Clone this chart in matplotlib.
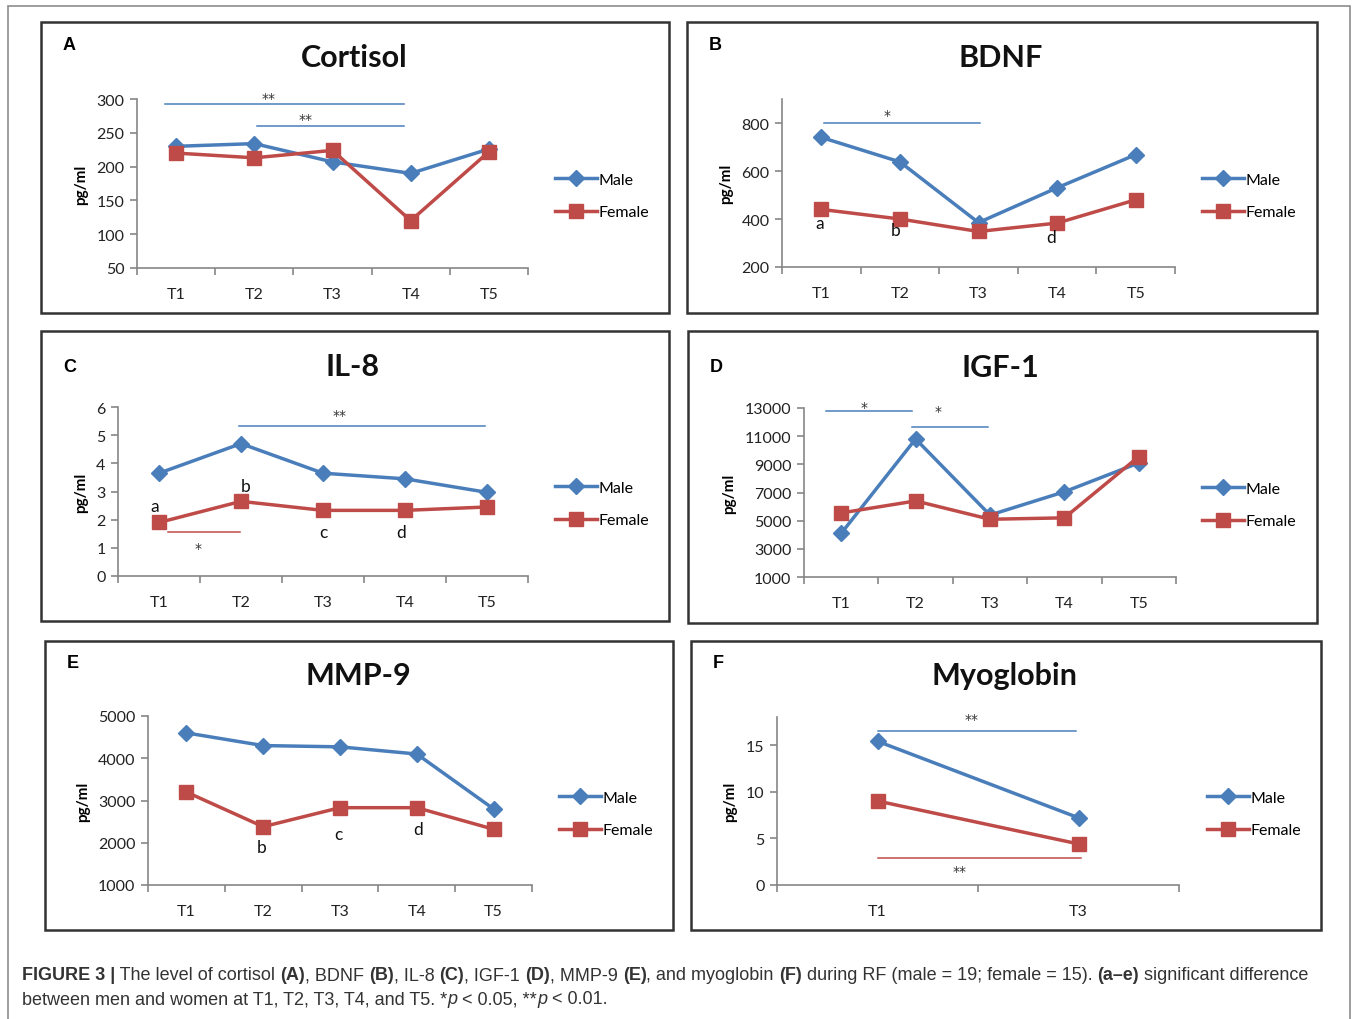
import matplotlib
matplotlib.use('Agg')
import matplotlib.pyplot as plt
from matplotlib.patches import Rectangle
from matplotlib.ticker import FixedLocator, NullFormatter
import numpy as np

W, H = 1357, 1020

times5 = ['T1', 'T2', 'T3', 'T4', 'T5']
times_myo = ['T1', 'T3']

cortisol_male = [230, 234, 207, 190, 226]
cortisol_female = [220, 213, 224, 120, 222]

bdnf_male = [740, 638, 385, 530, 668]
bdnf_female = [440, 400, 348, 383, 480]

il8_male = [3.65, 4.7, 3.65, 3.45, 2.97]
il8_female = [1.9, 2.65, 2.33, 2.33, 2.45]

igf_male = [4100, 10800, 5400, 7050, 9100]
igf_female = [5550, 6400, 5100, 5200, 9550]

mmp_male = [4600, 4300, 4270, 4100, 2800]
mmp_female = [3200, 2380, 2830, 2830, 2320]

myo_male = [15.4, 7.2]
myo_female = [9.0, 4.4]

BLUE = '#4a7ebb'
RED = '#be4b48'
AXC = '#868686'

plt.rcParams['font.family'] = ['Lato', 'DejaVu Sans']

fig = plt.figure(figsize=(W / 100, H / 100), dpi=100)


def fx(x):
    return x / W


def fy(y):
    return 1 - y / H


# outer frame
fig.patches.append(Rectangle((fx(8), fy(1030)), fx(1350) - fx(8), fy(7) - fy(1030),
                             transform=fig.transFigure, fill=False, ec='#8c8c8c', lw=1.2))


def panel(box, axbox, cats, male, female, ylim, yticks, title, letter,
          legend_x, legend_y, sig=(), letters=()):
    bx0, by0, bx1, by1 = box
    fig.patches.append(Rectangle((fx(bx0), fy(by1)), fx(bx1) - fx(bx0), fy(by0) - fy(by1),
                                 transform=fig.transFigure, fill=False, ec='#333333', lw=1.8))
    x0, yt, x1, yb = axbox
    ax = fig.add_axes([fx(x0), fy(yb), fx(x1) - fx(x0), fy(yt) - fy(yb)])
    xs = np.arange(len(cats))
    ax.plot(xs, male, color=BLUE, lw=2.5, marker='D', ms=8.5, mec=BLUE, mfc=BLUE, label='Male',
            clip_on=False, zorder=3)
    ax.plot(xs, female, color=RED, lw=2.5, marker='s', ms=10.5, mec=RED, mfc=RED, label='Female',
            clip_on=False, zorder=3)
    ax.set_xlim(-0.5, len(cats) - 0.5)
    ax.set_ylim(*ylim)
    ax.set_yticks(yticks)
    ax.set_yticklabels([str(t) for t in yticks])
    ax.set_xticks(xs)
    ax.set_xticklabels(cats)
    ax.xaxis.set_minor_locator(FixedLocator(np.arange(len(cats) + 1) - 0.5))
    ax.xaxis.set_minor_formatter(NullFormatter())
    ax.tick_params(axis='x', which='major', length=0, pad=14, labelsize=11.5, colors='#222222')
    ax.tick_params(axis='x', which='minor', length=5, color=AXC, width=1.2, direction='out')
    ax.tick_params(axis='y', length=5, color=AXC, width=1.2, direction='out',
                   labelsize=11.5, labelcolor='#222222', pad=4)
    for s in ['top', 'right']:
        ax.spines[s].set_visible(False)
    for s in ['left', 'bottom']:
        ax.spines[s].set_color(AXC)
        ax.spines[s].set_linewidth(1.2)
    ax.patch.set_alpha(0)
    ax.set_ylabel('pg/ml', fontsize=11, fontweight='bold', labelpad=6)
    for (sx0, sx1, sy, col, stars, tx, ty) in sig:
        ax.plot([sx0, sx1], [sy, sy], color=col, lw=1.1, clip_on=False, zorder=2)
        ax.text(tx, ty, stars, ha='center', va='center', fontsize=10, color='#333333',
                family='DejaVu Sans')
    for (lx, ly, s) in letters:
        ax.text(lx, ly, s, ha='center', va='center', fontsize=12.5, color='#111111')
    fig.text(fx(title[1]), fy(title[2]), title[0], ha='center', va='center',
             fontsize=22, fontweight='bold', color='#111111')
    fig.text(fx(bx0 + 22), fy(letter[1]), letter[0], ha='left', va='center',
             fontsize=13, fontweight='bold', family='Liberation Sans')
    ax.legend(loc='center left', bbox_to_anchor=(fx(legend_x), fy(legend_y)),
              bbox_transform=fig.transFigure, frameon=False, fontsize=11.5,
              handlelength=2.6, handletextpad=0.1, labelspacing=1.15, borderpad=0,
              borderaxespad=0)
    return ax


panel((41, 23, 669, 314), (137, 100, 528, 269), times5, cortisol_male, cortisol_female,
      (50, 300), [50, 100, 150, 200, 250, 300], ('Cortisol', 354, 58), ('A', 46),
      555, 197,
      sig=[(-0.14, 2.91, 292, BLUE, '**', 1.18, 302),
           (1.04, 2.91, 260, BLUE, '**', 1.65, 270)])

panel((687, 23, 1317, 314), (782, 100, 1175, 268), times5, bdnf_male, bdnf_female,
      (200, 900), [200, 400, 600, 800], ('BDNF', 1001, 58), ('B', 46),
      1202, 197,
      sig=[(0.03, 2.02, 800, BLUE, '*', 0.84, 835)],
      letters=[(-0.02, 385, 'a'), (0.94, 353, 'b'), (2.92, 325, 'd')])

panel((41, 332, 669, 622), (118, 408, 528, 577), times5, il8_male, il8_female,
      (0, 6), [0, 1, 2, 3, 4, 5, 6], ('IL-8', 353, 367), ('C', 367),
      555, 505,
      sig=[(0.98, 3.98, 5.32, BLUE, '**', 2.2, 5.7),
           (0.11, 0.99, 1.56, RED, '*', 0.48, 1.0)],
      letters=[(-0.05, 2.47, 'a'), (1.06, 3.2, 'b'), (2.0, 1.56, 'c'), (2.95, 1.56, 'd')])

panel((688, 332, 1317, 624), (804, 409, 1176, 578), times5, igf_male, igf_female,
      (1000, 13000), [1000, 3000, 5000, 7000, 9000, 11000, 13000], ('IGF-1', 1000, 368),
      ('D', 367), 1202, 506,
      sig=[(-0.2, 0.95, 12800, BLUE, '*', 0.31, 13100),
           (0.95, 1.97, 11650, BLUE, '*', 1.3, 12800)])

panel((45, 642, 673, 931), (148, 717, 532, 886), times5, mmp_male, mmp_female,
      (1000, 5000), [1000, 2000, 3000, 4000, 5000], ('MMP-9', 358, 676), ('E', 664),
      559, 815,
      letters=[(0.98, 1900, 'b'), (1.98, 2200, 'c'), (3.02, 2330, 'd')])

panel((691, 642, 1321, 931), (777, 718, 1179, 886), times_myo, myo_male, myo_female,
      (0, 18), [0, 5, 10, 15], ('Myoglobin', 1004, 676), ('F', 664),
      1207, 815,
      sig=[(0.0, 0.99, 16.5, BLUE, '**', 0.47, 17.8),
           (0.0, 1.01, 2.9, RED, '**', 0.41, 1.5)])

# caption with mixed bold segments
renderer = fig.canvas.get_renderer()
cap_lines = [
    [('FIGURE 3 |', 'bold', 'normal'), (' The level of cortisol ', 'normal', 'normal'),
     ('(A)', 'bold', 'normal'), (', BDNF ', 'normal', 'normal'), ('(B)', 'bold', 'normal'),
     (', IL-8 ', 'normal', 'normal'), ('(C)', 'bold', 'normal'),
     (', IGF-1 ', 'normal', 'normal'), ('(D)', 'bold', 'normal'),
     (', MMP-9 ', 'normal', 'normal'), ('(E)', 'bold', 'normal'),
     (', and myoglobin ', 'normal', 'normal'), ('(F)', 'bold', 'normal'),
     (' during RF (male = 19; female = 15). ', 'normal', 'normal'),
     ('(a\u2013e)', 'bold', 'normal'), (' significant difference', 'normal', 'normal')],
    [('between men and women at T1, T2, T3, T4, and T5. *', 'normal', 'normal'),
     ('p', 'normal', 'italic'), (' < 0.05, **', 'normal', 'normal'),
     ('p', 'normal', 'italic'), (' < 0.01.', 'normal', 'normal')],
]
cap_y = [976, 1000]
for segs, yy in zip(cap_lines, cap_y):
    x = 22
    for s, wt, st in segs:
        t = fig.text(fx(x), fy(yy), s, ha='left', va='center', fontsize=13.0,
                     fontweight=wt, fontstyle=st, family='Liberation Sans', color='#333333')
        bb = t.get_window_extent(renderer=renderer)
        x += bb.width

fig.savefig('out.png', dpi=100)
